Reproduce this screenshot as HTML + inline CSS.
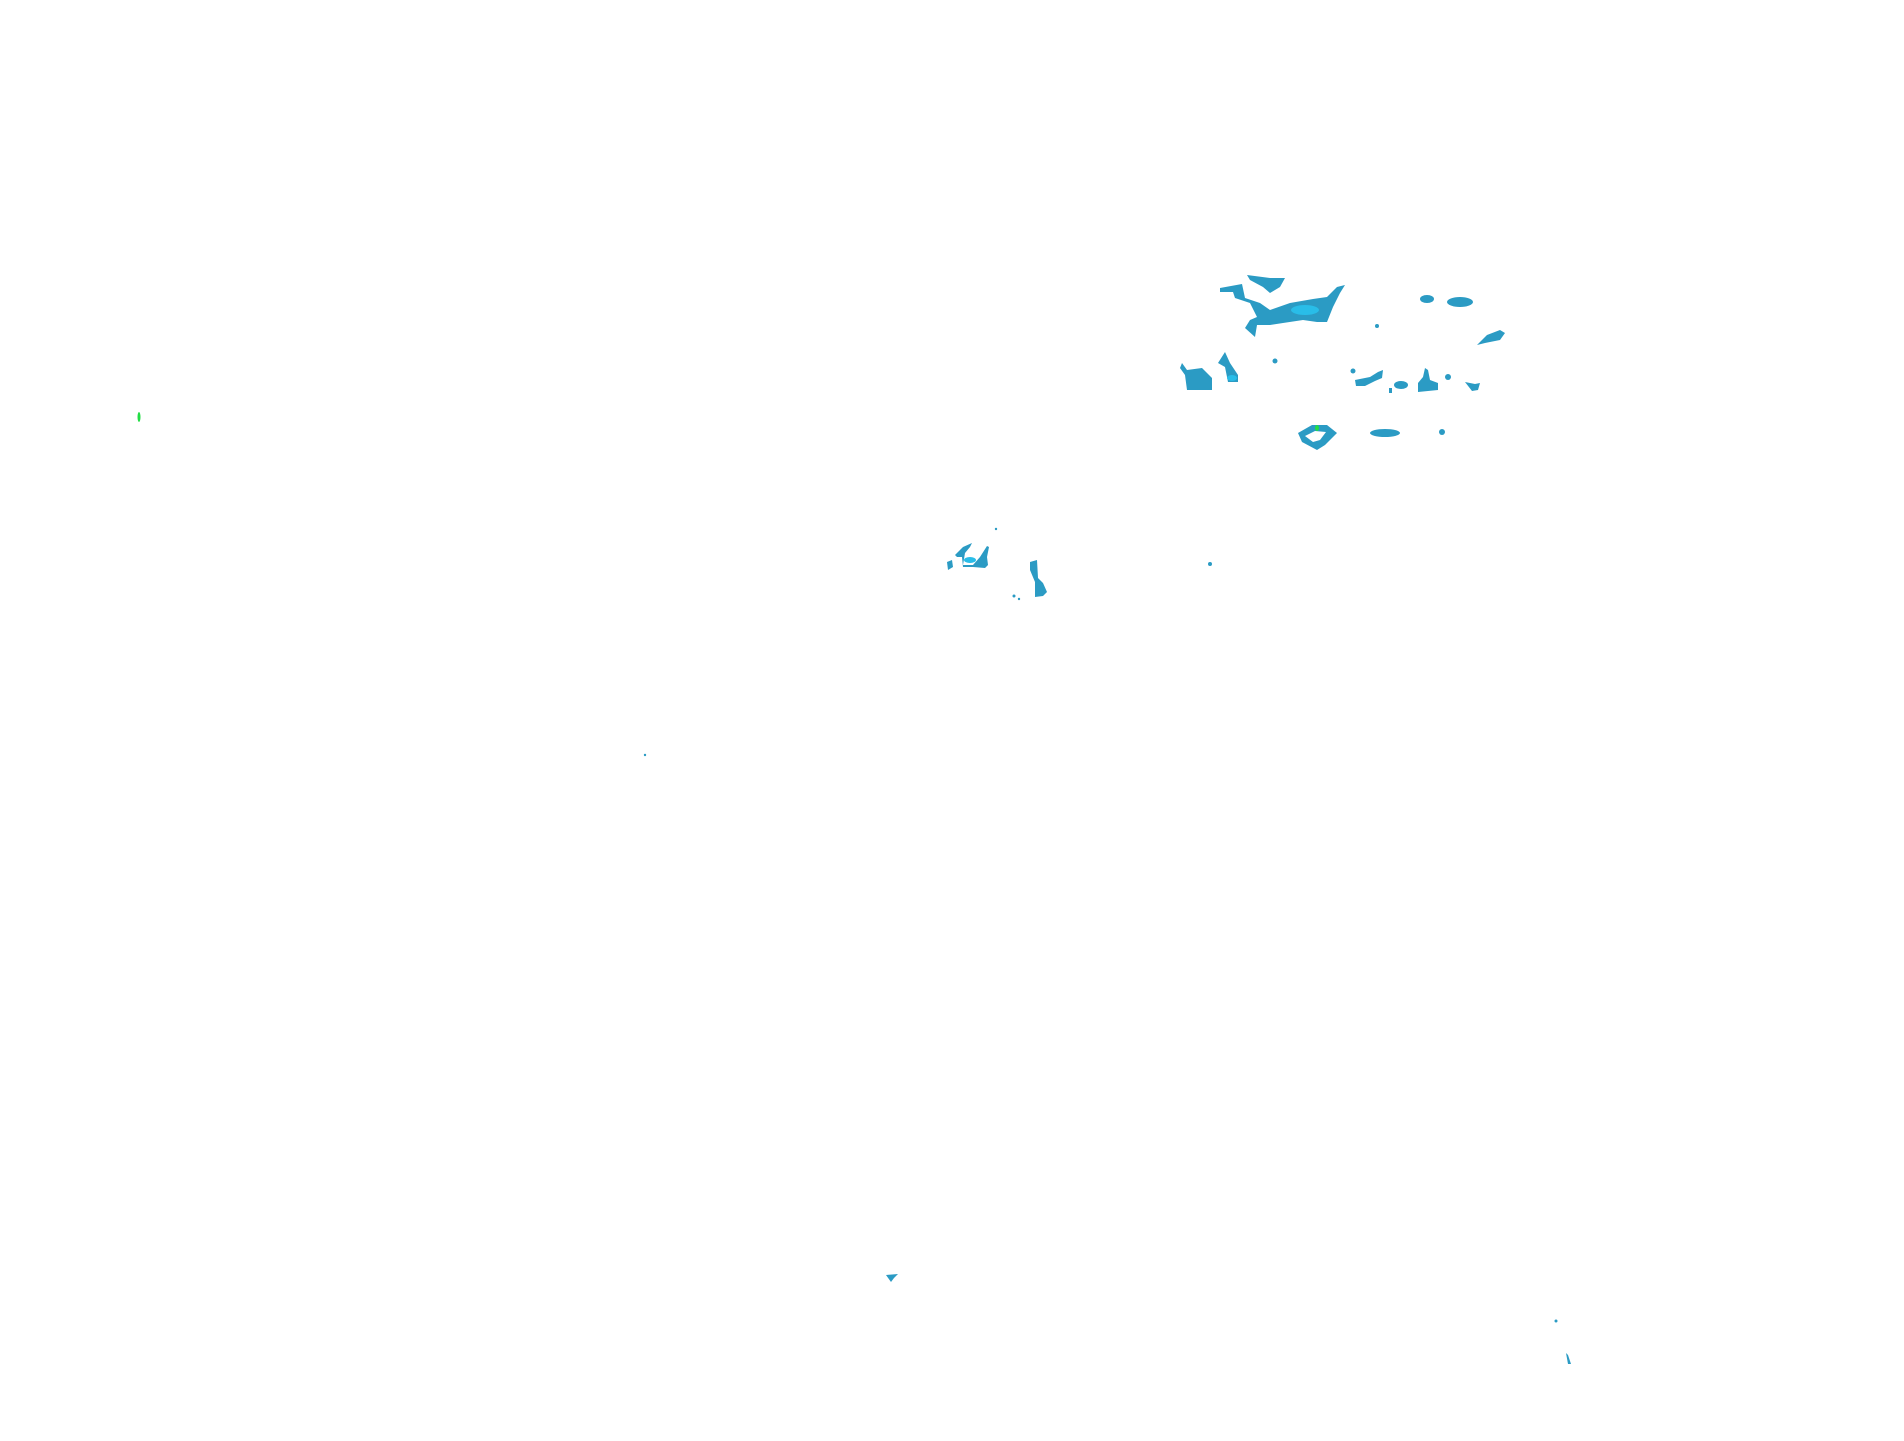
<!DOCTYPE html>
<html><head><meta charset="utf-8"><style>html,body{margin:0;padding:0;background:#fff;width:1904px;height:1441px;overflow:hidden}</style></head>
<body><svg width="1904" height="1441" viewBox="0 0 1904 1441" xmlns="http://www.w3.org/2000/svg">
<g fill="#2b9bc4">
<polygon points="1220,288 1242,284 1245,298 1260,303 1270,310 1290,303 1313,299 1327,297 1337,287 1345,285 1340,293 1333,307 1327,322 1317,322 1303,320 1283,323 1270,325 1257,325 1255,337 1245,328 1250,320 1257,317 1250,303 1235,298 1233,292 1220,292"/>
<polygon points="1247,275 1270,278 1285,278 1280,287 1270,293 1263,287 1250,280"/>
<polygon points="1182,363 1187,370 1202,368 1212,378 1212,390 1187,390 1185,375 1180,368"/>
<polygon points="1225,352 1230,363 1238,375 1238,382 1228,382 1225,367 1218,363"/>
<ellipse cx="1427" cy="299" rx="7" ry="4"/>
<ellipse cx="1460" cy="302" rx="13" ry="5"/>
<polygon points="1477,345 1487,335 1500,330 1505,333 1500,340 1485,343"/>
<polygon points="1355,380 1370,377 1378,372 1383,370 1382,378 1375,381 1365,386 1356,386"/>
<circle cx="1353" cy="371" r="2.5"/>
<ellipse cx="1401" cy="385" rx="7" ry="4"/>
<polygon points="1423,377 1425,368 1428,370 1430,380 1438,383 1438,390 1418,392 1418,383"/>
<circle cx="1448" cy="377" r="3"/>
<polygon points="1465,382 1475,384 1480,383 1478,390 1472,391"/>
<rect x="1389" y="388" width="3" height="5"/>
<path fill-rule="evenodd" d="M1298,433 L1312,425 L1327,425 L1337,433 L1325,445 L1317,450 L1302,442 Z M1305,436 L1315,431 L1326,432 L1320,440 L1313,442 Z"/>
<ellipse cx="1385" cy="433" rx="15" ry="4"/>
<circle cx="1442" cy="432" r="3"/>
<circle cx="1377" cy="326" r="2"/>
<circle cx="1275" cy="361" r="2.5"/>
<polygon points="947,562 952,560 953,567 948,570"/>
<polygon points="955,555 963,547 972,543 970,547 965,553 963,565 973,565 980,557 987,546 989,547 987,557 988,565 985,568 973,567 963,567 962,557 957,557"/>
<polygon points="1030,562 1037,560 1038,578 1043,583 1047,592 1043,596 1035,597 1035,582 1030,570"/>
<circle cx="996" cy="529" r="1.2"/>
<circle cx="1014" cy="596" r="1.5"/>
<circle cx="1210" cy="564" r="2"/>
<circle cx="1019" cy="599" r="1.2"/>
<circle cx="645" cy="755" r="1.2"/>
<polygon points="886,1275 898,1274 894,1278 891,1282"/>
<circle cx="1556" cy="1321" r="1.5"/>
<polygon points="1566,1353 1568,1355 1571,1364 1568,1364"/>
</g>
<g fill="#29bde8">
<ellipse cx="1305" cy="310" rx="14" ry="5"/>
<ellipse cx="1232" cy="378" rx="5" ry="3"/>
<ellipse cx="970" cy="560" rx="6" ry="3"/>
</g>
<g fill="#22dd44">
<ellipse cx="1317" cy="428" rx="2" ry="3"/>
<ellipse cx="139" cy="417" rx="1.5" ry="5"/>
</g>
</svg></body></html>
